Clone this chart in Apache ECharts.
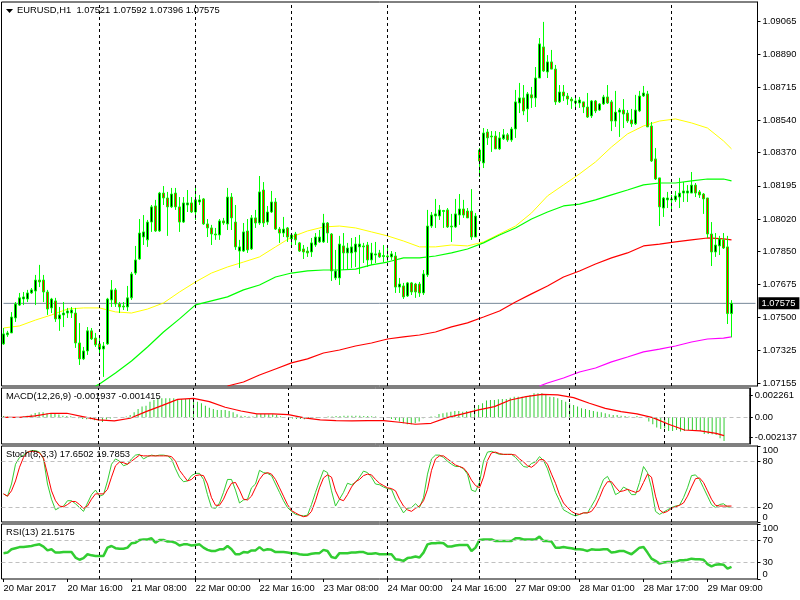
<!DOCTYPE html>
<html><head><meta charset="utf-8">
<style>html,body{margin:0;padding:0;background:#fff}#c{width:800px;height:600px}</style>
<script src="https://cdn.jsdelivr.net/npm/echarts@6/dist/echarts.min.js"></script>
</head><body><div id="c"></div>
<script>
const tickLabels = ['20 Mar 2017','20 Mar 16:00','21 Mar 08:00','22 Mar 00:00','22 Mar 16:00','23 Mar 08:00','24 Mar 00:00','24 Mar 16:00','27 Mar 09:00','28 Mar 01:00','28 Mar 17:00','29 Mar 09:00'];
const separators = [24,48,72,96,119,143,167];
const priceTicks = [1.07155,1.07325,1.075,1.07675,1.0785,1.0802,1.08195,1.0837,1.0854,1.08715,1.0889,1.09065];
const lastPrice = 1.07575;

const opens = [1.07361,1.07409,1.07419,1.07498,1.07566,1.07598,1.07598,1.0763,1.0764,1.07698,
1.07698,1.07635,1.07551,1.07588,1.07493,1.07514,1.07524,1.07524,1.07524,1.07366,
1.07282,1.07324,1.0743,1.07392,1.07361,1.07334,1.07361,1.07593,1.07646,1.07572,
1.07561,1.07556,1.07604,1.07735,1.07809,1.07925,1.0791,1.08004,1.08089,1.07957,
1.08157,1.08131,1.08084,1.08157,1.08084,1.08004,1.08094,1.08105,1.08057,1.0811,
1.08126,1.07994,1.07973,1.07941,1.07936,1.0801,1.07994,1.08136,1.08004,1.07851,
1.07851,1.07957,1.07862,1.08026,1.07999,1.08173,1.08004,1.08057,1.0811,1.07967,
1.07946,1.07973,1.07915,1.07941,1.07894,1.07862,1.07851,1.07846,1.07883,1.07899,
1.07899,1.07999,1.07941,1.07709,1.07709,1.07878,1.07841,1.07841,1.07846,1.07873,
1.07878,1.07883,1.07804,1.0783,1.07841,1.07822,1.07825,1.0782,1.07825,1.07661,
1.07667,1.07614,1.07683,1.07677,1.07677,1.0763,1.07725,1.07983,1.08036,1.08036,
1.0806,1.08068,1.07983,1.07978,1.08041,1.08073,1.08062,1.08062,1.07925,1.08384,
1.08316,1.08479,1.08458,1.08458,1.0839,1.08443,1.08464,1.08437,1.08495,1.08632,
1.08659,1.08601,1.08675,1.08659,1.08764,1.08928,1.08796,1.08849,1.08811,1.08638,
1.0869,1.08669,1.08653,1.08643,1.08632,1.08638,1.08611,1.08564,1.08643,1.08595,
1.08627,1.08664,1.08638,1.08537,1.08584,1.08595,1.08579,1.08543,1.08522,1.0859,
1.08669,1.0868,1.08511,1.08337,1.08237,1.08078,1.08121,1.08121,1.08121,1.08136,
1.08157,1.08157,1.08157,1.08199,1.08163,1.08152,1.08131,1.07941,1.07846,1.07878,
1.0791,1.07873,1.07521];
const highs = [1.07445,1.0743,1.07529,1.07582,1.0763,1.07635,1.07646,1.07656,1.07725,1.07778,
1.07725,1.07646,1.07604,1.07604,1.07556,1.07582,1.07551,1.07556,1.07551,1.07471,
1.07345,1.0745,1.07445,1.07419,1.07392,1.07371,1.07604,1.07698,1.07656,1.07582,
1.07582,1.07667,1.07741,1.07878,1.0802,1.08041,1.08015,1.08094,1.08121,1.08163,
1.08194,1.08163,1.08184,1.08184,1.08136,1.08136,1.08173,1.08136,1.08184,1.08147,
1.08131,1.0802,1.07989,1.07973,1.0802,1.08026,1.08184,1.08157,1.08094,1.0791,
1.07999,1.0802,1.08041,1.08068,1.08247,1.08215,1.08089,1.08168,1.08131,1.07978,
1.08031,1.07978,1.07946,1.07952,1.07899,1.07883,1.07873,1.0792,1.07946,1.07962,
1.08047,1.08004,1.07946,1.07857,1.07931,1.07946,1.07894,1.0792,1.07925,1.07936,
1.07894,1.07899,1.07894,1.07899,1.07857,1.07883,1.07867,1.07851,1.07846,1.07709,
1.07683,1.07688,1.07688,1.07683,1.07688,1.07751,1.08068,1.08057,1.08126,1.08094,
1.08068,1.08078,1.08047,1.08126,1.08152,1.08121,1.08078,1.08178,1.08052,1.08395,
1.085,1.08495,1.08484,1.08484,1.08479,1.08495,1.08474,1.08506,1.08701,1.08738,
1.08727,1.0869,1.08717,1.08822,1.08975,1.0906,1.08885,1.08912,1.08833,1.08727,
1.08727,1.08685,1.08664,1.08659,1.08664,1.08638,1.08685,1.08648,1.08648,1.08632,
1.08675,1.08727,1.08648,1.08696,1.08606,1.08653,1.08595,1.08601,1.08675,1.08696,
1.08722,1.08696,1.08532,1.08395,1.08237,1.08136,1.08163,1.08147,1.08168,1.08237,
1.08215,1.08199,1.08268,1.0821,1.08173,1.08157,1.08131,1.08004,1.07946,1.07931,
1.07946,1.07931,1.07592];
const lows = [1.07356,1.07398,1.07419,1.07477,1.07561,1.07566,1.07582,1.07625,1.07566,1.07661,
1.07582,1.07514,1.07524,1.07477,1.0743,1.0745,1.07498,1.07498,1.0734,1.0725,
1.07276,1.07303,1.07382,1.07345,1.07303,1.07187,1.07356,1.07556,1.07556,1.07524,
1.0754,1.07535,1.07593,1.07725,1.07804,1.07883,1.07873,1.07952,1.07952,1.07952,
1.08094,1.07931,1.08078,1.08068,1.07952,1.07999,1.08057,1.08052,1.08015,1.08094,
1.07989,1.07925,1.07883,1.0791,1.0791,1.07989,1.07962,1.07962,1.07857,1.07762,
1.07846,1.07841,1.07857,1.07973,1.07989,1.07978,1.07989,1.08052,1.07962,1.07894,
1.07925,1.07899,1.07883,1.07883,1.07846,1.07809,1.0782,1.0782,1.07873,1.07894,
1.07894,1.07894,1.07693,1.07698,1.07672,1.07751,1.07751,1.07762,1.07767,1.0773,
1.07788,1.07767,1.07778,1.07788,1.07815,1.07793,1.07793,1.07804,1.0763,1.0763,
1.07598,1.07609,1.07619,1.07604,1.07609,1.07619,1.07714,1.07973,1.07973,1.08015,
1.07973,1.07973,1.07899,1.07973,1.07989,1.08026,1.08026,1.0791,1.07925,1.08242,
1.08289,1.08411,1.08374,1.0839,1.08384,1.08437,1.08427,1.08427,1.08448,1.08579,
1.08568,1.08532,1.08606,1.08611,1.08764,1.08796,1.08764,1.08811,1.08622,1.08632,
1.08643,1.08622,1.08601,1.08595,1.08606,1.08579,1.08553,1.08553,1.08579,1.0859,
1.08622,1.08627,1.08484,1.08506,1.08453,1.085,1.08527,1.08506,1.08516,1.08584,
1.08664,1.08506,1.08321,1.08226,1.07983,1.08031,1.08078,1.08062,1.0811,1.08078,
1.0811,1.0811,1.08157,1.08136,1.08131,1.08047,1.0792,1.07772,1.0782,1.0783,
1.07862,1.07466,1.07396];
const closes = [1.07414,1.07419,1.07503,1.07572,1.07604,1.07609,1.0763,1.07646,1.07698,1.07688,
1.07635,1.07545,1.07598,1.07493,1.07514,1.07524,1.07535,1.0754,1.07366,1.07282,
1.07324,1.0743,1.07387,1.07356,1.07334,1.0735,1.07598,1.07646,1.07572,1.07556,
1.07556,1.07604,1.0773,1.07804,1.07946,1.07952,1.08004,1.08084,1.07957,1.08157,
1.08131,1.08084,1.08152,1.08084,1.08004,1.08105,1.08105,1.08057,1.08121,1.08121,
1.07994,1.07973,1.07941,1.07936,1.0801,1.07999,1.08136,1.08026,1.07873,1.07873,
1.07952,1.07857,1.08026,1.07999,1.08163,1.07999,1.08057,1.0811,1.07967,1.07946,
1.07967,1.07925,1.07936,1.0791,1.07851,1.07846,1.07841,1.07894,1.07925,1.07925,
1.07999,1.07946,1.07746,1.07746,1.07888,1.07841,1.07867,1.07873,1.07888,1.07888,
1.07873,1.07804,1.07841,1.07836,1.0782,1.07827,1.0782,1.07836,1.07661,1.07677,
1.07609,1.07683,1.07635,1.07635,1.0763,1.0773,1.07983,1.08041,1.08047,1.08068,
1.08065,1.07978,1.07978,1.08047,1.08073,1.08041,1.08026,1.07925,1.08036,1.08326,
1.08474,1.08448,1.08453,1.0839,1.08448,1.08464,1.08437,1.08495,1.08638,1.08659,
1.0859,1.0868,1.08659,1.08764,1.08944,1.08801,1.08849,1.08811,1.08638,1.0869,
1.08669,1.08653,1.08643,1.08632,1.08648,1.08611,1.08558,1.08643,1.0859,1.08627,
1.08664,1.08632,1.08537,1.08584,1.08595,1.08574,1.08537,1.08522,1.08595,1.08669,
1.08685,1.08506,1.08326,1.08231,1.08084,1.08131,1.08131,1.08126,1.08142,1.08157,
1.08168,1.08168,1.08199,1.08157,1.08147,1.08126,1.07941,1.07846,1.07883,1.07915,
1.07867,1.07521,1.07575];

const readBars = [0,4,8,12,16,20,24,28,32,36,40,44,48,52,56,60,64,68,72,76,80,84,88,92,96,100,104,108,112,116,120,124,128,132,136,140,144,148,152,156,160,164,168,172,176,180,182];
const maYellow = [1.07445,1.07456,1.07487,1.07514,1.07545,1.07551,1.07551,1.0753,1.07524,1.07545,1.07577,1.07635,1.07688,1.07735,1.07767,1.07793,1.0782,1.07873,1.07925,1.07957,1.07978,1.07983,1.07973,1.07952,1.07931,1.07904,1.07873,1.07873,1.07883,1.07878,1.07899,1.07941,1.07983,1.08052,1.08142,1.082,1.08258,1.08321,1.084,1.08469,1.08511,1.08537,1.08548,1.08527,1.085,1.08432,1.0839];
const greenBars = [23].concat(readBars.slice(6));
const maGreen = [1.07139,1.0715,1.07208,1.07271,1.07345,1.07424,1.07493,1.07567,1.07588,1.07609,1.07646,1.07672,1.07714,1.07735,1.07746,1.07751,1.07751,1.07756,1.07778,1.07793,1.07815,1.07815,1.07825,1.07841,1.07862,1.07894,1.07936,1.07973,1.0802,1.08057,1.08089,1.08099,1.08121,1.08147,1.08173,1.082,1.0821,1.0821,1.08221,1.08231,1.08231,1.08221];
const redBars = readBars.slice(14);
const maRed = [1.07139,1.0716,1.07197,1.07229,1.07261,1.07282,1.07313,1.07329,1.0735,1.07366,1.07387,1.07398,1.07408,1.07424,1.07451,1.07472,1.07503,1.07535,1.07582,1.07625,1.07667,1.07714,1.07746,1.07783,1.07815,1.07841,1.07878,1.07888,1.07899,1.0791,1.0792,1.07915,1.0791];
const magentaBars = [134].concat(readBars.slice(34));
const maMagenta = [1.07139,1.07155,1.07181,1.07213,1.07234,1.07266,1.07292,1.07319,1.07334,1.0735,1.07371,1.07387,1.07392,1.07398];

const macdHist = [0.00014,0.00007,0,0,0.00003,0.00007,0.00017,0.00028,0.00045,0.00052,
0.00052,0.00042,0.00042,0.00035,0.00028,0.00017,0.00014,0.0001,0,-0.0001,
-0.00017,-0.00021,-0.00021,-0.00031,-0.00035,-0.00049,-0.00024,-0.00014,-0.00007,0,
0.00003,0.00007,0.00024,0.00052,0.00087,0.00112,0.00122,0.00164,0.00181,0.00192,
0.00199,0.00199,0.00199,0.00199,0.00192,0.00192,0.00192,0.00192,0.00181,0.00164,
0.00147,0.00122,0.00101,0.00087,0.00077,0.00077,0.00077,0.00066,0.00052,0.00031,
0.00017,0.00014,0.00007,0.00007,0.00031,0.00035,0.00035,0.00031,0.00031,0.00024,
0.0001,0,-0.00007,-0.00014,-0.00017,-0.00017,-0.00021,-0.00017,-0.0001,-0.00007,
-0.00003,0.00003,0.00007,0.00007,0.00014,0.00014,0.00017,0.00017,0.00017,0.00017,
0.00017,0.00014,0.00014,0.0001,0.00007,0,0,-0.00007,-0.00017,-0.00028,
-0.00045,-0.00063,-0.00073,-0.00073,-0.00063,-0.00045,-0.0001,0,0.00007,0.00007,
0.00035,0.00042,0.00049,0.00059,0.00066,0.00066,0.00059,0.00066,0.00066,0.00094,
0.00129,0.00147,0.00175,0.00181,0.00181,0.00188,0.00192,0.00192,0.00206,0.00216,
0.00216,0.00216,0.00216,0.00234,0.00251,0.00251,0.00251,0.00241,0.00216,0.00213,
0.00199,0.00181,0.00164,0.00147,0.00129,0.00112,0.00094,0.00087,0.00077,0.00066,
0.00059,0.00052,0.00042,0.00031,0.00024,0.00024,0.00017,0.00014,0.00007,0.00003,
0.00014,0,0,-0.00045,-0.00073,-0.00108,-0.00122,-0.00115,-0.00143,-0.00143,
-0.00133,-0.0015,-0.00143,-0.00133,-0.00133,-0.00133,-0.00143,-0.00175,-0.00175,-0.00178,
-0.00185,-0.0022,-0.00248];
const macdSignal = [0,0,0.00014,0.00042,0.00042,0.00007,-0.00028,-0.00038,-0.0001,0.00059,0.00122,0.00188,0.00199,0.00164,0.00105,0.00066,0.00035,0.00035,0.00028,-0.00007,-0.00028,-0.00035,-0.00038,-0.00035,-0.00035,-0.00052,-0.00073,-0.00063,-0.00003,0.00035,0.00077,0.00112,0.00181,0.00216,0.00241,0.00234,0.00206,0.00147,0.00094,0.00059,0.00035,-0.00003,-0.00073,-0.00133,-0.00143,-0.00168,-0.00192];
const macdTicks = [-0.002137,0,0.002261];

const stochMain = [37,34,50,76,85,88,92,94,94,92,83,50,30,16,19,21,28,28,24,19,14,25,36,42,34,36,54,76,83,80,74,76,83,88,89,83,86,88,87,88,88,87,83,70,59,53,54,61,64,64,56,36,19,18,25,39,56,56,42,25,29,30,45,50,68,65,64,
61,50,39,28,19,14,10,9,8,9,23,39,54,68,65,41,21,30,39,51,49,52,59,67,65,59,50,49,46,44,43,30,21,12,18,19,24,19,32,63,83,88,88,85,80,76,73,73,70,63,42,40,52,80,92,93,91,89,89,89,89,85,79,73,72,77,79,
86,81,70,54,39,28,16,13,10,8,10,12,12,21,30,43,56,60,50,36,39,46,43,36,36,52,73,65,45,14,10,13,16,19,21,22,32,45,61,62,56,45,34,23,19,23,24,20,19];
const stochSignal = [37,34,41,54,72,85,92,93,93,91,84,63,41,28,21,20,23,27,27,23,18,21,30,37,37,37,43,59,74,79,78,76,80,84,88,87,87,87,87,87,87,87,86,80,68,61,54,56,61,62,61,50,32,22,22,30,42,51,52,42,30,29,34,45,56,63,65,
63,56,45,34,23,15,12,9,7,8,14,28,45,58,62,59,41,30,28,36,46,53,56,61,63,62,56,51,48,45,44,41,30,21,16,14,18,21,28,43,68,83,87,87,83,79,75,73,71,65,55,48,45,59,81,91,92,90,89,89,89,88,83,79,74,72,76,
82,82,76,63,51,36,25,19,14,11,10,12,12,14,21,32,45,53,53,46,40,41,43,41,39,41,52,63,59,34,16,12,14,18,20,22,25,34,46,57,58,52,41,30,22,21,21,21,21];
const stochLevels = [80,20];
const stochTicks = [0,20,80,100];

const rsiValues = [47,48,54,56,58,58,59,60,62,63,59,52,54,48,48,49,49,49,39,35,38,45,43,42,42,42,57,60,56,55,55,57,65,66,71,72,72,74,66,71,71,68,68,66,61,63,63,61,62,63,57,53,51,51,54,54,60,54,45,45,49,48,52,52,58,52,54,
53,49,49,49,48,47,47,45,44,44,46,47,47,53,51,40,38,47,47,47,48,48,49,49,46,46,47,45,45,45,45,36,35,33,38,39,41,39,48,63,65,65,66,65,59,59,61,62,62,62,51,57,71,72,72,72,69,69,69,69,69,74,74,72,72,72,72,
77,69,69,68,57,57,58,57,56,54,54,53,51,54,53,53,54,54,48,49,51,51,48,45,51,57,58,48,37,33,28,30,31,31,31,34,34,35,37,36,36,35,27,23,26,27,26,19,22];
const rsiLevels = [70,30];
const rsiTicks = [0,30,70,100];

const FONT = 'Liberation Sans';
const FS = 9.4;
const pts = (bars, vals) => bars.map((b, k) => [b, vals[k]]);
const categories = new Array(189).fill('');
tickLabels.forEach((t, k) => { categories[k * 16] = t; });

const panels = [
  {top: 2,   height: 384},
  {top: 388, height: 56},
  {top: 446, height: 76},
  {top: 524, height: 55}
];
const grids = panels.map(p => ({left: 1.5, width: 756, top: p.top, height: p.height, show: true, borderColor: '#000', borderWidth: 1, backgroundColor: '#fff'}));
const xAxes = panels.map((p, k) => ({
  type: 'category', gridIndex: k, data: categories, boundaryGap: true,
  axisLine: {show: false},
  axisTick: {show: k === 3, interval: 15, alignWithLabel: true, length: 3, lineStyle: {color: '#000'}},
  axisLabel: {show: k === 3, interval: 15, align: 'left', margin: 5, color: '#000', fontFamily: FONT, fontSize: FS, hideOverlap: false},
  splitLine: {show: false}
}));
const yBase = (k, min, max, ticks, fmt) => ({
  type: 'value', gridIndex: k, position: 'right', min, max, scale: true,
  axisLine: {show: true, onZero: false, lineStyle: {color: '#000'}},
  axisTick: {show: true, length: 3, customValues: ticks, lineStyle: {color: '#000'}},
  axisLabel: {customValues: ticks, margin: 5, color: '#000', fontFamily: FONT, fontSize: FS, formatter: fmt,
    showMinLabel: true, showMaxLabel: true, verticalAlignMinLabel: 'bottom', verticalAlignMaxLabel: 'top'},
  splitLine: {show: false}
});
const yAxes = [
  yBase(0, 1.07139, 1.09165, priceTicks, v => v.toFixed(5)),
  yBase(1, -0.0028, 0.00307, macdTicks, v => v === 0 ? '0.00' : v.toFixed(6)),
  yBase(2, 0, 100, stochTicks, v => String(v)),
  yBase(3, 0, 100, rsiTicks, v => String(v))
];
yAxes[0].axisLabel.verticalAlignMinLabel = 'middle';
yAxes[0].axisLabel.verticalAlignMaxLabel = 'middle';
yAxes[1].axisLabel.verticalAlignMinLabel = 'middle';
yAxes[1].axisLabel.verticalAlignMaxLabel = 'middle';

const sepLine = {silent: true, symbol: 'none', animation: false, label: {show: false},
  lineStyle: {color: '#000', type: [3, 3], width: 1}, data: separators.map(s => ({xAxis: s}))};
const levelLine = vals => ({silent: true, symbol: 'none', animation: false, label: {show: false},
  lineStyle: {color: '#c0c0c0', type: [4, 3], width: 1}, data: vals.map(v => ({yAxis: v}))});
const helper = (k, extra) => Object.assign({type: 'line', xAxisIndex: k, yAxisIndex: k, data: [], z: 1, showSymbol: false, silent: true}, extra);
const line = (k, data, color, width, z) => ({type: 'line', xAxisIndex: k, yAxisIndex: k, data, showSymbol: false, symbol: 'none', silent: true, clip: true, z: z || 3, lineStyle: {color, width}});

const priceLine = line(0, [[0, lastPrice], [188, lastPrice]], '#778899', 1, 1);
priceLine.endLabel = {show: true, distance: 3, formatter: () => lastPrice.toFixed(5), color: '#fff', backgroundColor: '#000', padding: [2, 4, 1, 3], fontFamily: FONT, fontSize: FS};

const series = [
  priceLine,
  helper(0, {markLine: sepLine}),
  helper(1, {markLine: sepLine}),
  helper(2, {markLine: sepLine}),
  helper(3, {markLine: sepLine}),
  helper(1, {markLine: levelLine([0])}),
  helper(2, {markLine: levelLine(stochLevels)}),
  helper(3, {markLine: levelLine(rsiLevels)}),
  {type: 'candlestick', xAxisIndex: 0, yAxisIndex: 0, z: 4, silent: true, barWidth: 2,
    data: opens.map((o, i) => [o, closes[i], lows[i], highs[i]]),
    itemStyle: {color: '#000', color0: '#f00', borderColor: '#0f0', borderColor0: '#0f0', borderWidth: 1}},
  line(0, pts(readBars, maYellow), '#ffff00', 1),
  line(0, pts(greenBars, maGreen), '#00ff00', 1.2),
  line(0, pts(redBars, maRed), '#ff0000', 1.2),
  line(0, pts(magentaBars, maMagenta), '#ff00ff', 1.2),
  {type: 'bar', xAxisIndex: 1, yAxisIndex: 1, barWidth: 1, silent: true, z: 2, data: macdHist, itemStyle: {color: '#32cd32'}},
  line(1, pts(readBars, macdSignal), '#ff0000', 1.2),
  line(2, stochMain, '#32cd32', 1),
  line(2, stochSignal, '#ff0000', 1),
  line(3, rsiValues, '#32cd32', 2.5)
];

const heads = [
  {text: 'EURUSD,H1  1.07521 1.07592 1.07396 1.07575', left: 17, top: 6},
  {text: 'MACD(12,26,9) -0.001937 -0.001415', left: 6, top: 392},
  {text: 'Stoch(8,3,3) 17.6502 19.7853', left: 6, top: 450},
  {text: 'RSI(13) 21.5175', left: 6, top: 528}
].map(h => Object.assign(h, {padding: 0, textStyle: {color: '#000', fontFamily: FONT, fontSize: FS, fontWeight: 'normal'}, z: 10}));

const chart = echarts.init(document.getElementById('c'), null, {renderer: 'canvas', width: 800, height: 600});
chart.setOption({
  animation: false, backgroundColor: '#fff',
  title: heads, grid: grids, xAxis: xAxes, yAxis: yAxes, series,
  graphic: [{type: 'polygon', shape: {points: [[6, 9], [13, 9], [9.5, 13]]}, style: {fill: '#000'}, z: 20}]
});
</script></body></html>
